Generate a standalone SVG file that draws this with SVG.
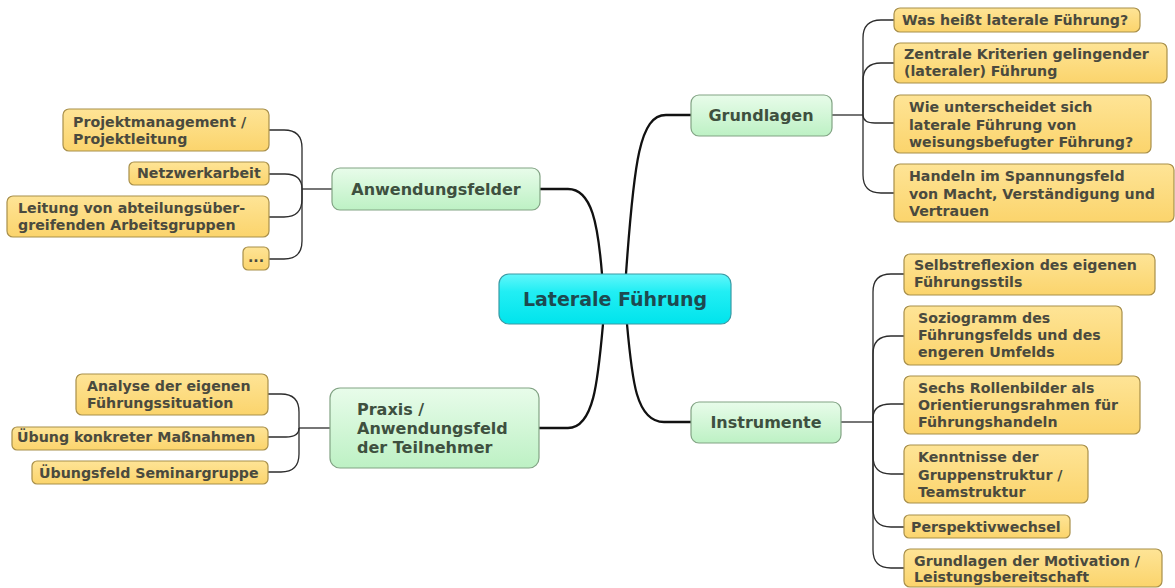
<svg xmlns="http://www.w3.org/2000/svg" width="1175" height="588" viewBox="0 0 1175 588">
<defs>
<linearGradient id="gy" x1="0" y1="0" x2="0" y2="1"><stop offset="0" stop-color="#fee496"/><stop offset="1" stop-color="#fbd46c"/></linearGradient>
<linearGradient id="gg" x1="0" y1="0" x2="0" y2="1"><stop offset="0" stop-color="#e8fcea"/><stop offset="1" stop-color="#bdf1c4"/></linearGradient>
<linearGradient id="gc" x1="0" y1="0" x2="0" y2="1"><stop offset="0" stop-color="#62f6fa"/><stop offset="0.35" stop-color="#22eef4"/><stop offset="1" stop-color="#00e4ec"/></linearGradient>
<style>
.y{fill:url(#gy);stroke:#a88f4a;stroke-width:1.2}
.g{fill:url(#gg);stroke:#82a384;stroke-width:1.2}
.c{fill:url(#gc);stroke:#3a9aa4;stroke-width:1.2}
.ty{font-family:"DejaVu Sans",Verdana,sans-serif;font-weight:bold;font-size:14.2px;fill:#4a4a3e}
.tg{font-family:"DejaVu Sans",Verdana,sans-serif;font-weight:bold;font-size:16px;fill:#3e503f}
.tc{font-family:"DejaVu Sans",Verdana,sans-serif;font-weight:bold;font-size:19px;fill:#1d4a50}
.l{fill:none;stroke:#2c2c2c;stroke-width:1.3}
.m{fill:none;stroke:#111;stroke-width:2.3}
</style>
</defs>
<rect width="1175" height="588" fill="#ffffff"/>
<g id="connectors">
<path class="m" d="M626,274 C634,160 640,115 666,115 L691,115"/>
<path class="m" d="M602,274 C598,225 592,189 568,189 L540,189"/>
<path class="m" d="M603,324 C598,380 594,428 568,428 L539,428"/>
<path class="m" d="M627,324 C632,380 636,422 664,422 L691,422"/>
<path class="l" d="M832,115 L863,115"/>
<path class="l" d="M863,115 L863,38 Q863,20 881,20 L894,20"/>
<path class="l" d="M863,115 L863,81 Q863,63 881,63 L894,63"/>
<path class="l" d="M863,115 Q863,123 875,123 L894,123"/>
<path class="l" d="M863,115 L863,175 Q863,193 881,193 L894,193"/>
<path class="l" d="M841,422 L873,422"/>
<path class="l" d="M873,422 L873,292 Q873,274 891,274 L904,274"/>
<path class="l" d="M873,422 L873,354 Q873,336 891,336 L904,336"/>
<path class="l" d="M873,422 L873,418 Q873,404 891,404 L904,404"/>
<path class="l" d="M873,422 L873,456 Q873,474 891,474 L904,474"/>
<path class="l" d="M873,422 L873,509 Q873,527 891,527 L904,527"/>
<path class="l" d="M873,422 L873,550 Q873,568 891,568 L904,568"/>
<path class="l" d="M332,189 L302,189"/>
<path class="l" d="M302,189 L302,148 Q302,130 284,130 L269,130"/>
<path class="l" d="M302,189 Q302,174 285,174 L269,174"/>
<path class="l" d="M302,189 L302,199 Q302,217 284,217 L269,217"/>
<path class="l" d="M302,189 L302,241 Q302,259 284,259 L269,259"/>
<path class="l" d="M330,428 L299,428"/>
<path class="l" d="M299,428 L299,412 Q299,394 281,394 L268,394"/>
<path class="l" d="M299,428 Q299,437 286,437 L268,437"/>
<path class="l" d="M299,428 L299,454 Q299,472 281,472 L268,472"/>
</g>
<g id="center"><rect class="c" x="499" y="274" width="232" height="50" rx="10"/><text class="tc" x="615" y="306" text-anchor="middle">Laterale Führung</text></g>
<g id="grundlagen"><rect class="g" x="691" y="95" width="141" height="41" rx="8"/><text class="tg" x="761" y="121" text-anchor="middle">Grundlagen</text></g>
<g id="instrumente"><rect class="g" x="691" y="402" width="150" height="41" rx="8"/><text class="tg" x="766" y="428" text-anchor="middle">Instrumente</text></g>
<g id="anwendungsfelder"><rect class="g" x="332" y="168" width="208" height="42" rx="8"/><text class="tg" x="436" y="195" text-anchor="middle">Anwendungsfelder</text></g>
<g id="praxis"><rect class="g" x="330" y="388" width="209" height="80" rx="10"/><text class="tg" x="357" y="415">Praxis /</text><text class="tg" x="357" y="434">Anwendungsfeld</text><text class="tg" x="357" y="453">der Teilnehmer</text></g>
<g id="g1"><rect class="y" x="894" y="8" width="246" height="24" rx="6"/><text class="ty" x="902" y="25">Was heißt laterale Führung?</text></g>
<g id="g2"><rect class="y" x="894" y="43" width="273" height="40" rx="6"/><text class="ty" x="904" y="59">Zentrale Kriterien gelingender</text><text class="ty" x="904" y="76">(lateraler) Führung</text></g>
<g id="g3"><rect class="y" x="894" y="95" width="257" height="58" rx="6"/><text class="ty" x="909" y="112">Wie unterscheidet sich</text><text class="ty" x="909" y="129.5">laterale Führung von</text><text class="ty" x="909" y="147">weisungsbefugter Führung?</text></g>
<g id="g4"><rect class="y" x="894" y="164" width="280" height="58" rx="6"/><text class="ty" x="909" y="181">Handeln im Spannungsfeld</text><text class="ty" x="909" y="198.5">von Macht, Verständigung und</text><text class="ty" x="909" y="216">Vertrauen</text></g>
<g id="i1"><rect class="y" x="904" y="254" width="251" height="41" rx="6"/><text class="ty" x="914" y="270">Selbstreflexion des eigenen</text><text class="ty" x="914" y="287">Führungsstils</text></g>
<g id="i2"><rect class="y" x="904" y="306" width="218" height="59" rx="6"/><text class="ty" x="918" y="323">Soziogramm des</text><text class="ty" x="918" y="340">Führungsfelds und des</text><text class="ty" x="918" y="357">engeren Umfelds</text></g>
<g id="i3"><rect class="y" x="904" y="376" width="236" height="58" rx="6"/><text class="ty" x="918" y="393">Sechs Rollenbilder als</text><text class="ty" x="918" y="410">Orientierungsrahmen für</text><text class="ty" x="918" y="427">Führungshandeln</text></g>
<g id="i4"><rect class="y" x="904" y="445" width="184" height="58" rx="6"/><text class="ty" x="918" y="462">Kenntnisse der</text><text class="ty" x="918" y="480">Gruppenstruktur /</text><text class="ty" x="918" y="497">Teamstruktur</text></g>
<g id="i5"><rect class="y" x="904" y="515" width="166" height="23" rx="5"/><text class="ty" x="911" y="532">Perspektivwechsel</text></g>
<g id="i6"><rect class="y" x="904" y="549" width="258" height="38" rx="6"/><text class="ty" x="914" y="566">Grundlagen der Motivation /</text><text class="ty" x="914" y="582">Leistungsbereitschaft</text></g>
<g id="a1"><rect class="y" x="63" y="109" width="206" height="42" rx="6"/><text class="ty" x="73" y="127">Projektmanagement /</text><text class="ty" x="73" y="144">Projektleitung</text></g>
<g id="a2"><rect class="y" x="129" y="162" width="140" height="23" rx="5"/><text class="ty" x="137" y="178">Netzwerkarbeit</text></g>
<g id="a3"><rect class="y" x="7" y="196" width="262" height="41" rx="6"/><text class="ty" x="18" y="213">Leitung von abteilungsüber-</text><text class="ty" x="18" y="230">greifenden Arbeitsgruppen</text></g>
<g id="a4"><rect class="y" x="243" y="247" width="26" height="23" rx="5"/><text class="ty" x="256" y="262" text-anchor="middle">...</text></g>
<g id="p1"><rect class="y" x="76" y="374" width="192" height="41" rx="6"/><text class="ty" x="87" y="391">Analyse der eigenen</text><text class="ty" x="87" y="408">Führungssituation</text></g>
<g id="p2"><rect class="y" x="12" y="427" width="256" height="23" rx="5"/><text class="ty" x="17" y="442">Übung konkreter Maßnahmen</text></g>
<g id="p3"><rect class="y" x="32" y="461" width="236" height="23" rx="5"/><text class="ty" x="39" y="478">Übungsfeld Seminargruppe</text></g>
</svg>
